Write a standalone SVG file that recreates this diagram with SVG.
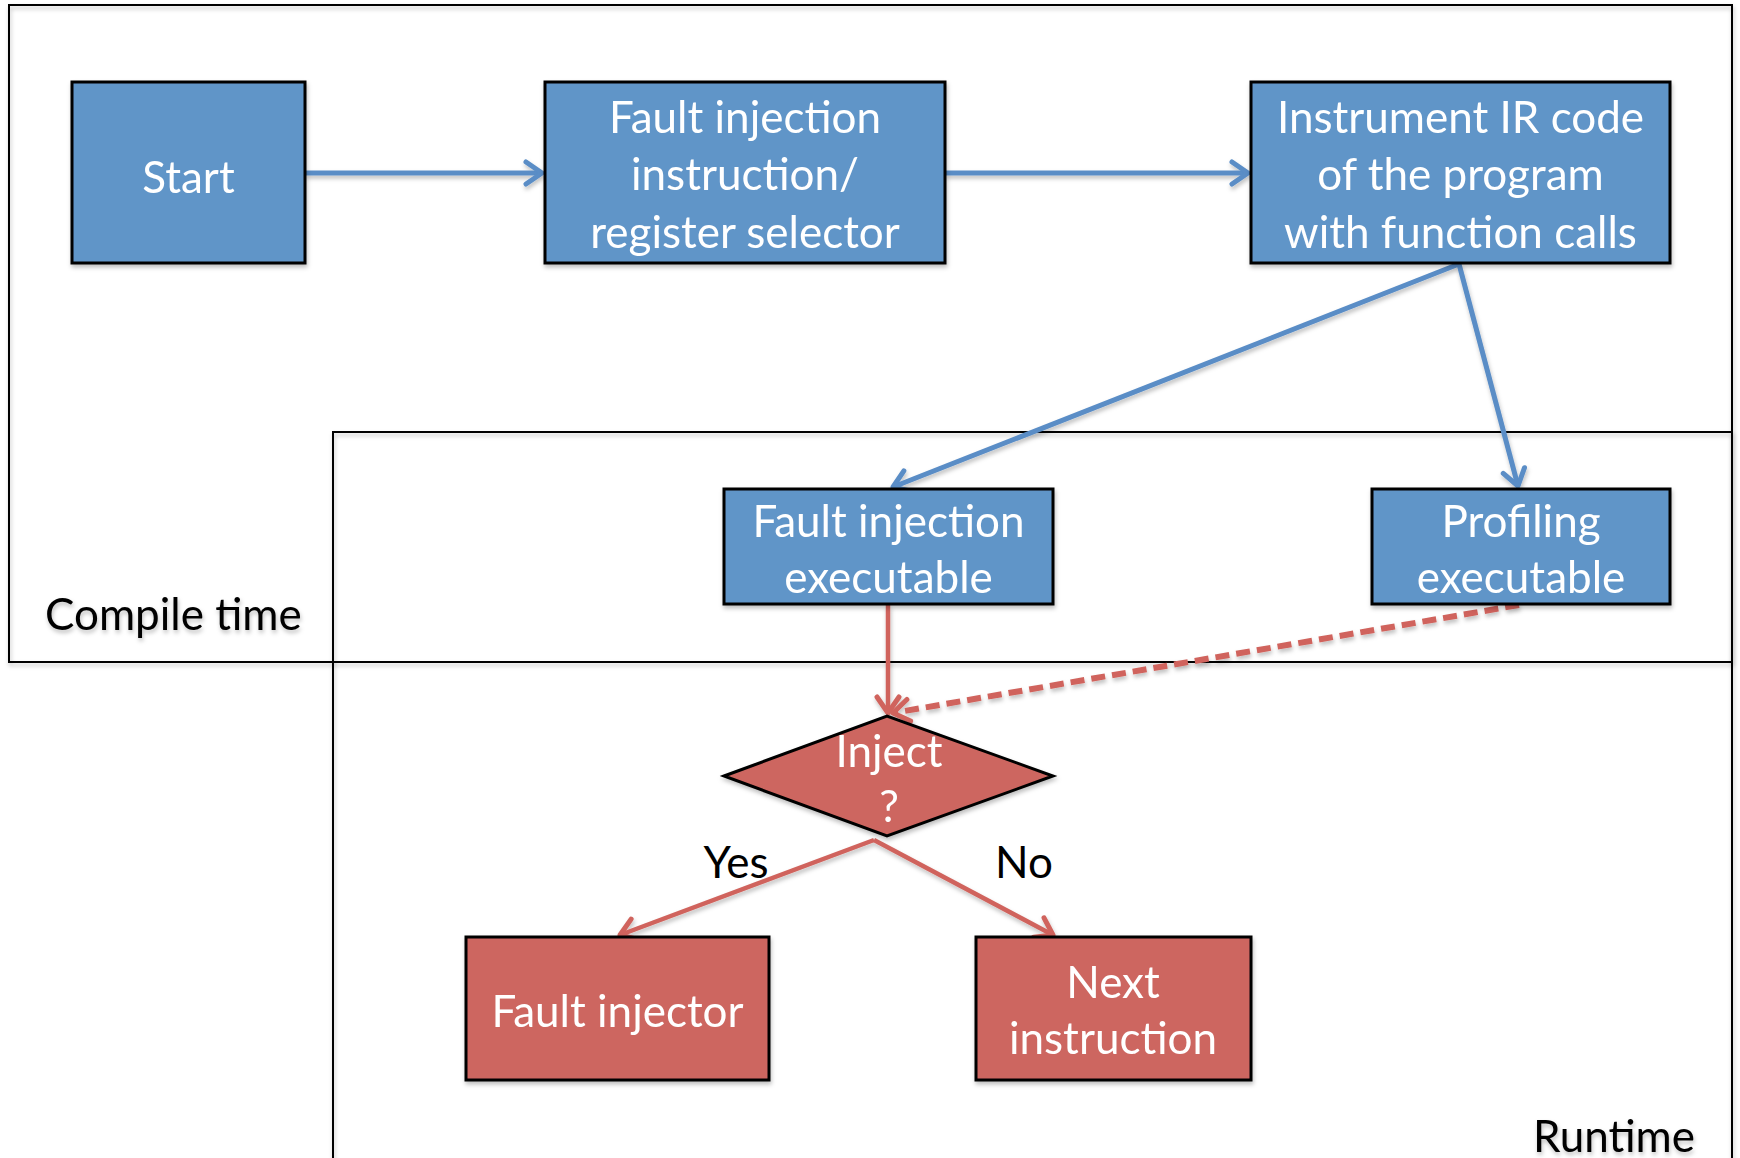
<svg xmlns="http://www.w3.org/2000/svg" width="1740" height="1158" viewBox="0 0 1740 1158">
  <style>
    .frame { fill: none; stroke: #000; stroke-width: 2; }
    .blue { fill: #6195C8; stroke: #000; stroke-width: 3; }
    .red { fill: #CD6660; stroke: #000; stroke-width: 3; }
    .lbl { font-family: Lato, "Liberation Sans", sans-serif; font-size: 44px; fill: #fff; text-anchor: middle; }
    .cap { font-family: Lato, "Liberation Sans", sans-serif; font-size: 44px; fill: #000; }
    .wire-b { fill: none; stroke: #5A8DC6; stroke-width: 5; marker-end: url(#headBlue); }
    .wire-r { fill: none; stroke: #D0645D; stroke-width: 4.5; marker-end: url(#headRed); }
    .dash { stroke-width: 6; stroke-dasharray: 14 7; }
  </style>
  <defs>
    <filter id="soft" x="-5%" y="-5%" width="115%" height="120%">
      <feDropShadow dx="1" dy="3" stdDeviation="2" flood-color="#000" flood-opacity="0.25"/>
    </filter>
    <marker id="headBlue" markerUnits="userSpaceOnUse" markerWidth="26" markerHeight="28" refX="19" refY="14" orient="auto">
      <path d="M3,3 L19,14 L3,25" fill="none" stroke="#5A8DC6" stroke-width="5" stroke-linecap="round" stroke-linejoin="round"/>
    </marker>
    <marker id="headRed" markerUnits="userSpaceOnUse" markerWidth="26" markerHeight="28" refX="19" refY="14" orient="auto">
      <path d="M3,3 L19,14 L3,25" fill="none" stroke="#D0645D" stroke-width="5" stroke-linecap="round" stroke-linejoin="round"/>
    </marker>
  </defs>

  <rect width="1740" height="1158" fill="#fff"/>

  <!-- phase frames -->
  <g id="compile-time" filter="url(#soft)">
    <rect class="frame" x="9" y="5" width="1723" height="657"/>
    <text class="cap" x="45" y="630">Compile time</text>
  </g>
  <g id="runtime" filter="url(#soft)">
    <rect class="frame" x="333" y="432" width="1399" height="760"/>
    <text class="cap" x="1695" y="1152" text-anchor="end">Runtime</text>
  </g>

  <!-- connectors -->
  <g id="connectors" filter="url(#soft)">
    <line class="wire-b" x1="305" y1="173" x2="542" y2="173"/>
    <line class="wire-b" x1="945" y1="173" x2="1248" y2="173"/>
    <line class="wire-b" x1="1459" y1="264" x2="893" y2="487"/>
    <line class="wire-b" x1="1459" y1="264" x2="1518" y2="486"/>
    <line class="wire-r" x1="888" y1="605" x2="888" y2="713"/>
    <line class="wire-r dash" x1="1519" y1="605" x2="893" y2="713"/>
    <line class="wire-r" x1="874" y1="840" x2="620" y2="935"/>
    <line class="wire-r" x1="874" y1="840" x2="1053" y2="935"/>
  </g>

  <!-- nodes -->
  <g id="start" filter="url(#soft)">
    <rect class="blue" x="72" y="82" width="233" height="181"/>
    <text class="lbl" x="188.5" y="193">Start</text>
  </g>
  <g id="selector" filter="url(#soft)">
    <rect class="blue" x="545" y="82" width="400" height="181"/>
    <text class="lbl" x="745" y="133">Fault injection</text>
    <text class="lbl" x="745" y="190">instruction/</text>
    <text class="lbl" x="745" y="248">register selector</text>
  </g>
  <g id="instrument" filter="url(#soft)">
    <rect class="blue" x="1251" y="82" width="419" height="181"/>
    <text class="lbl" x="1460.5" y="133">Instrument IR code</text>
    <text class="lbl" x="1460.5" y="190">of the program</text>
    <text class="lbl" x="1460.5" y="248">with function calls</text>
  </g>
  <g id="fi-exe" filter="url(#soft)">
    <rect class="blue" x="724" y="489" width="329" height="115"/>
    <text class="lbl" x="888.5" y="537">Fault injection</text>
    <text class="lbl" x="888.5" y="593">executable</text>
  </g>
  <g id="prof-exe" filter="url(#soft)">
    <rect class="blue" x="1372" y="489" width="298" height="115"/>
    <text class="lbl" x="1521" y="537">Profiling</text>
    <text class="lbl" x="1521" y="593">executable</text>
  </g>
  <g id="inject" filter="url(#soft)">
    <polygon class="red" points="724,776 887,716 1053,776 887,836"/>
    <text class="lbl" x="889" y="767">Inject</text>
    <text class="lbl" x="889" y="822">?</text>
  </g>
  <g id="fault-injector" filter="url(#soft)">
    <rect class="red" x="466" y="937" width="303" height="143"/>
    <text class="lbl" x="617.5" y="1027">Fault injector</text>
  </g>
  <g id="next-instr" filter="url(#soft)">
    <rect class="red" x="976" y="937" width="275" height="143"/>
    <text class="lbl" x="1113" y="998">Next</text>
    <text class="lbl" x="1113" y="1054">instruction</text>
  </g>

  <!-- branch labels -->
  <g id="branch-labels">
    <text class="cap" x="736" y="878" text-anchor="middle">Yes</text>
    <text class="cap" x="1024" y="878" text-anchor="middle">No</text>
  </g>
</svg>
